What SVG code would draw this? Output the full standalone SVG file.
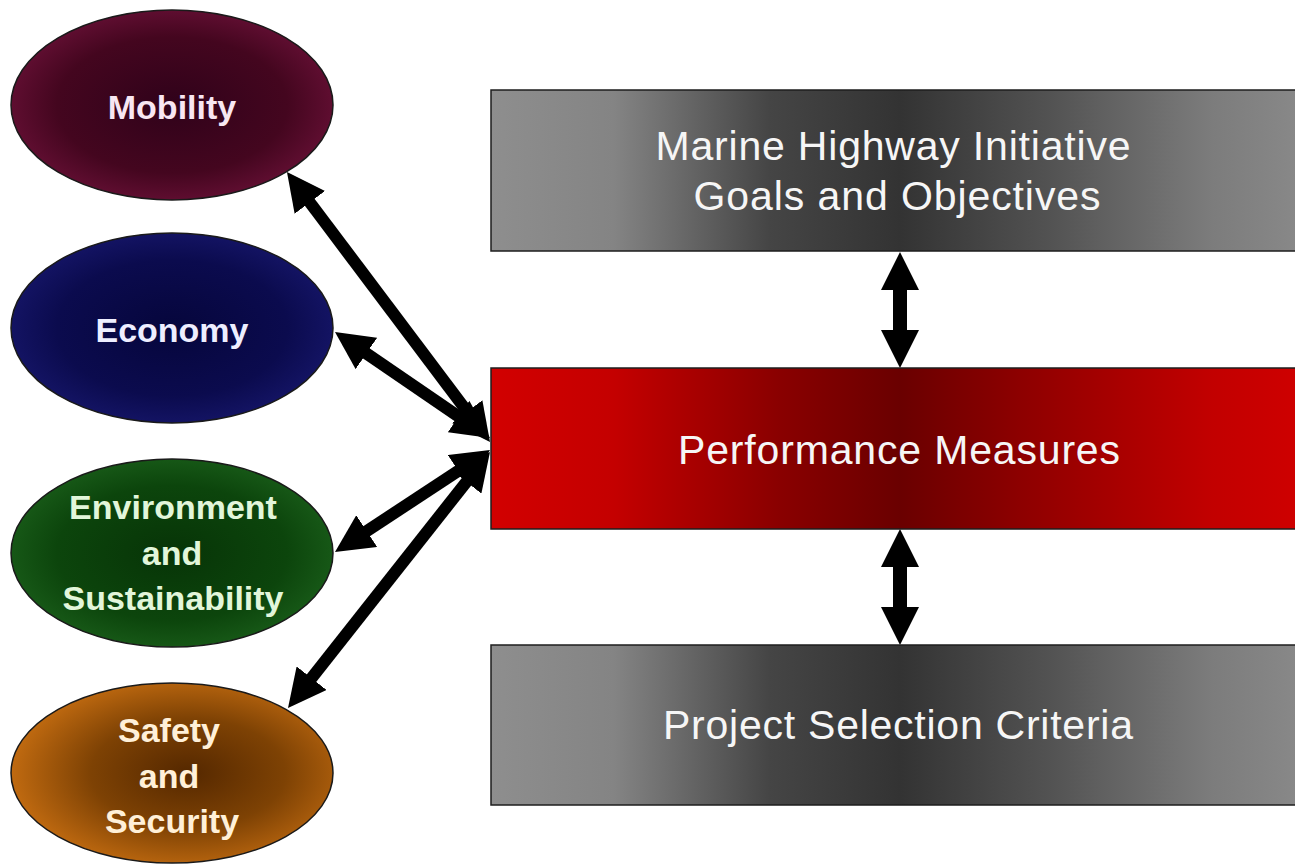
<svg xmlns="http://www.w3.org/2000/svg" width="1295" height="866" viewBox="0 0 1295 866">
<defs>
<style>
.oval{stroke:#1a1a1a;stroke-width:1.5}
.box{stroke:#1e1e1e;stroke-width:1.5}
.ot{font-family:"Liberation Sans",Arial,sans-serif;font-weight:bold;font-size:34px;text-anchor:middle}
.bt{font-family:"Liberation Sans",Arial,sans-serif;font-size:41px;text-anchor:middle;fill:#f6f6f6}
.arr{stroke:#000;fill:none;stroke-linecap:butt;marker-start:url(#head);marker-end:url(#head)}
</style>
<marker id="head" markerUnits="userSpaceOnUse" viewBox="0 0 38 38" markerWidth="38" markerHeight="38" refX="18" refY="19" orient="auto-start-reverse">
<path d="M0,0 L38,19 L0,38 Z" fill="#000"/>
</marker>
<radialGradient id="gMob" cx="0.5" cy="0.5" r="0.55">
<stop offset="0" stop-color="#30021a"/>
<stop offset="0.65" stop-color="#44061f"/>
<stop offset="1" stop-color="#681036"/>
</radialGradient>
<radialGradient id="gEco" cx="0.5" cy="0.5" r="0.55">
<stop offset="0" stop-color="#06063c"/>
<stop offset="0.65" stop-color="#0b0b4e"/>
<stop offset="1" stop-color="#16166a"/>
</radialGradient>
<radialGradient id="gEnv" cx="0.5" cy="0.5" r="0.55">
<stop offset="0" stop-color="#073407"/>
<stop offset="0.65" stop-color="#0c450c"/>
<stop offset="1" stop-color="#1a5e1a"/>
</radialGradient>
<radialGradient id="gSaf" cx="0.55" cy="0.5" r="0.55">
<stop offset="0" stop-color="#552800"/>
<stop offset="0.55" stop-color="#7e4204"/>
<stop offset="1" stop-color="#c06a10"/>
</radialGradient>
<linearGradient id="gGray" x1="491" y1="0" x2="1310" y2="0" gradientUnits="userSpaceOnUse">
<stop offset="0" stop-color="#8e8e8e"/>
<stop offset="0.15" stop-color="#848484"/>
<stop offset="0.34" stop-color="#454545"/>
<stop offset="0.5" stop-color="#333333"/>
<stop offset="0.68" stop-color="#525252"/>
<stop offset="0.88" stop-color="#7c7c7c"/>
<stop offset="1" stop-color="#8a8a8a"/>
</linearGradient>
<linearGradient id="gRed" x1="491" y1="0" x2="1310" y2="0" gradientUnits="userSpaceOnUse">
<stop offset="0" stop-color="#d20000"/>
<stop offset="0.15" stop-color="#c40000"/>
<stop offset="0.35" stop-color="#8a0000"/>
<stop offset="0.5" stop-color="#6a0000"/>
<stop offset="0.68" stop-color="#950000"/>
<stop offset="0.88" stop-color="#c20000"/>
<stop offset="1" stop-color="#d00000"/>
</linearGradient>
</defs>
<rect width="1295" height="866" fill="#ffffff"/>

<g id="connectors">
<path class="arr" style="stroke-width:12" d="M299,188 L478,426"/>
<path class="arr" style="stroke-width:12" d="M351.5,343.3 L473.5,426.7"/>
<path class="arr" style="stroke-width:12" d="M351.7,541 L473.3,461"/>
<path class="arr" style="stroke-width:12" d="M300.4,692.3 L477.6,467.7"/>
<path class="arr" style="stroke-width:14" d="M900,272 L900,348"/>
<path class="arr" style="stroke-width:14" d="M900,549 L900,625"/>
</g>

<g id="mobility">
<ellipse class="oval" cx="172" cy="105" rx="161" ry="95" fill="url(#gMob)"/>
<text class="ot" x="172" y="119" fill="#f8e6f2">Mobility</text>
</g>
<g id="economy">
<ellipse class="oval" cx="172" cy="328" rx="161" ry="95" fill="url(#gEco)"/>
<text class="ot" x="172" y="342" fill="#eeeeff">Economy</text>
</g>
<g id="environment">
<ellipse class="oval" cx="172" cy="553" rx="161" ry="94" fill="url(#gEnv)"/>
<text class="ot" fill="#e2f6da"><tspan x="173" y="519">Environment</tspan><tspan x="172" y="565">and</tspan><tspan x="173" y="610">Sustainability</tspan></text>
</g>
<g id="safety">
<ellipse class="oval" cx="172" cy="773" rx="161" ry="90" fill="url(#gSaf)"/>
<text class="ot" fill="#fff0d8"><tspan x="169" y="742">Safety</tspan><tspan x="169" y="788">and</tspan><tspan x="172" y="833">Security</tspan></text>
</g>

<g id="goals">
<rect class="box" x="491" y="90" width="819" height="161" fill="url(#gGray)"/>
<text class="bt"><tspan x="893" y="160" textLength="475" lengthAdjust="spacing">Marine Highway Initiative</tspan><tspan x="897" y="210" textLength="407" lengthAdjust="spacing">Goals and Objectives</tspan></text>
</g>
<g id="performance">
<rect class="box" x="491" y="368" width="819" height="161" fill="url(#gRed)"/>
<text class="bt" x="899" y="464" textLength="442" lengthAdjust="spacing" fill="#fff2f2">Performance Measures</text>
</g>
<g id="criteria">
<rect class="box" x="491" y="645" width="819" height="160" fill="url(#gGray)"/>
<text class="bt" x="898" y="739" textLength="470" lengthAdjust="spacing">Project Selection Criteria</text>
</g>
</svg>
